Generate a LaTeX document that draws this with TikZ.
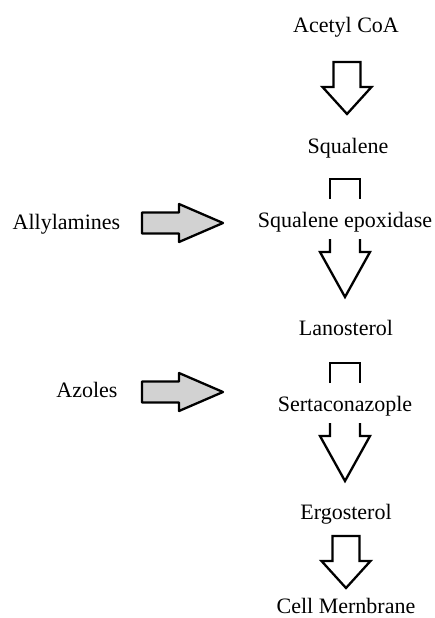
\documentclass[tikz,border=0pt]{standalone}
\usepackage{fontspec}
\setmainfont{Liberation Serif}
\usetikzlibrary{calc}

\tikzset{
  stage/.style={font=\fontsize{22}{26}\selectfont, anchor=base, inner sep=0pt},
  blockline/.style={draw=black, line width=2.3pt, line join=miter},
  downarr/.pic={
    \draw[blockline] (-13.5,-26)--(13.5,-26)--(13.5,-1)--(24.5,-1)--(0,26)--(-24.5,-1)--(-13.5,-1)--cycle;},
  splitarr/.pic={
    \draw[blockline] (-15,-28)--(-15,-48)--(15,-48)--(15,-28);
    \draw[blockline] (-15,12)--(-15,25)--(-25,25)--(0,70)--(25,25)--(15,25)--(15,12);},
  sidearr/.pic={
    \draw[blockline, line join=round, fill=gray!35] (0,-10.5)--(37,-10.5)--(37,-19)--(81,0)--(37,19)--(37,10.5)--(0,10.5)--cycle;}
}

\begin{document}
\begin{tikzpicture}[x=1pt,y=-1pt]
\useasboundingbox (0,0) rectangle (435,618);
% pathway
\node[stage] (acetyl) at (346,33) {Acetyl CoA};
\node[stage] (squalene) at (348,153) {Squalene};
\node[stage] (epox) at (345,227) {Squalene epoxidase};
\node[stage] (lano) at (346,335) {Lanosterol};
\node[stage] (serta) at (345,411) {Sertaconazople};
\node[stage] (ergo) at (346,519) {Ergosterol};
\node[stage] (membrane) at (346,613) {Cell Mernbrane};
\pic at ($(acetyl.base)!0.5!(squalene.base)+(0,-5)$) {downarr};
\pic at (epox.base) {splitarr};
\pic at (serta.base) {splitarr};
\pic at ($(ergo.base)!0.5!(membrane.base)+(0,-4)$) {downarr};
% inhibitors
\node[stage] (allyl) at (66.5,229) {Allylamines};
\node[stage] (azoles) at (87,397) {Azoles};
\pic at (142,223) {sidearr};
\pic at (142,392) {sidearr};
\end{tikzpicture}
\end{document}
